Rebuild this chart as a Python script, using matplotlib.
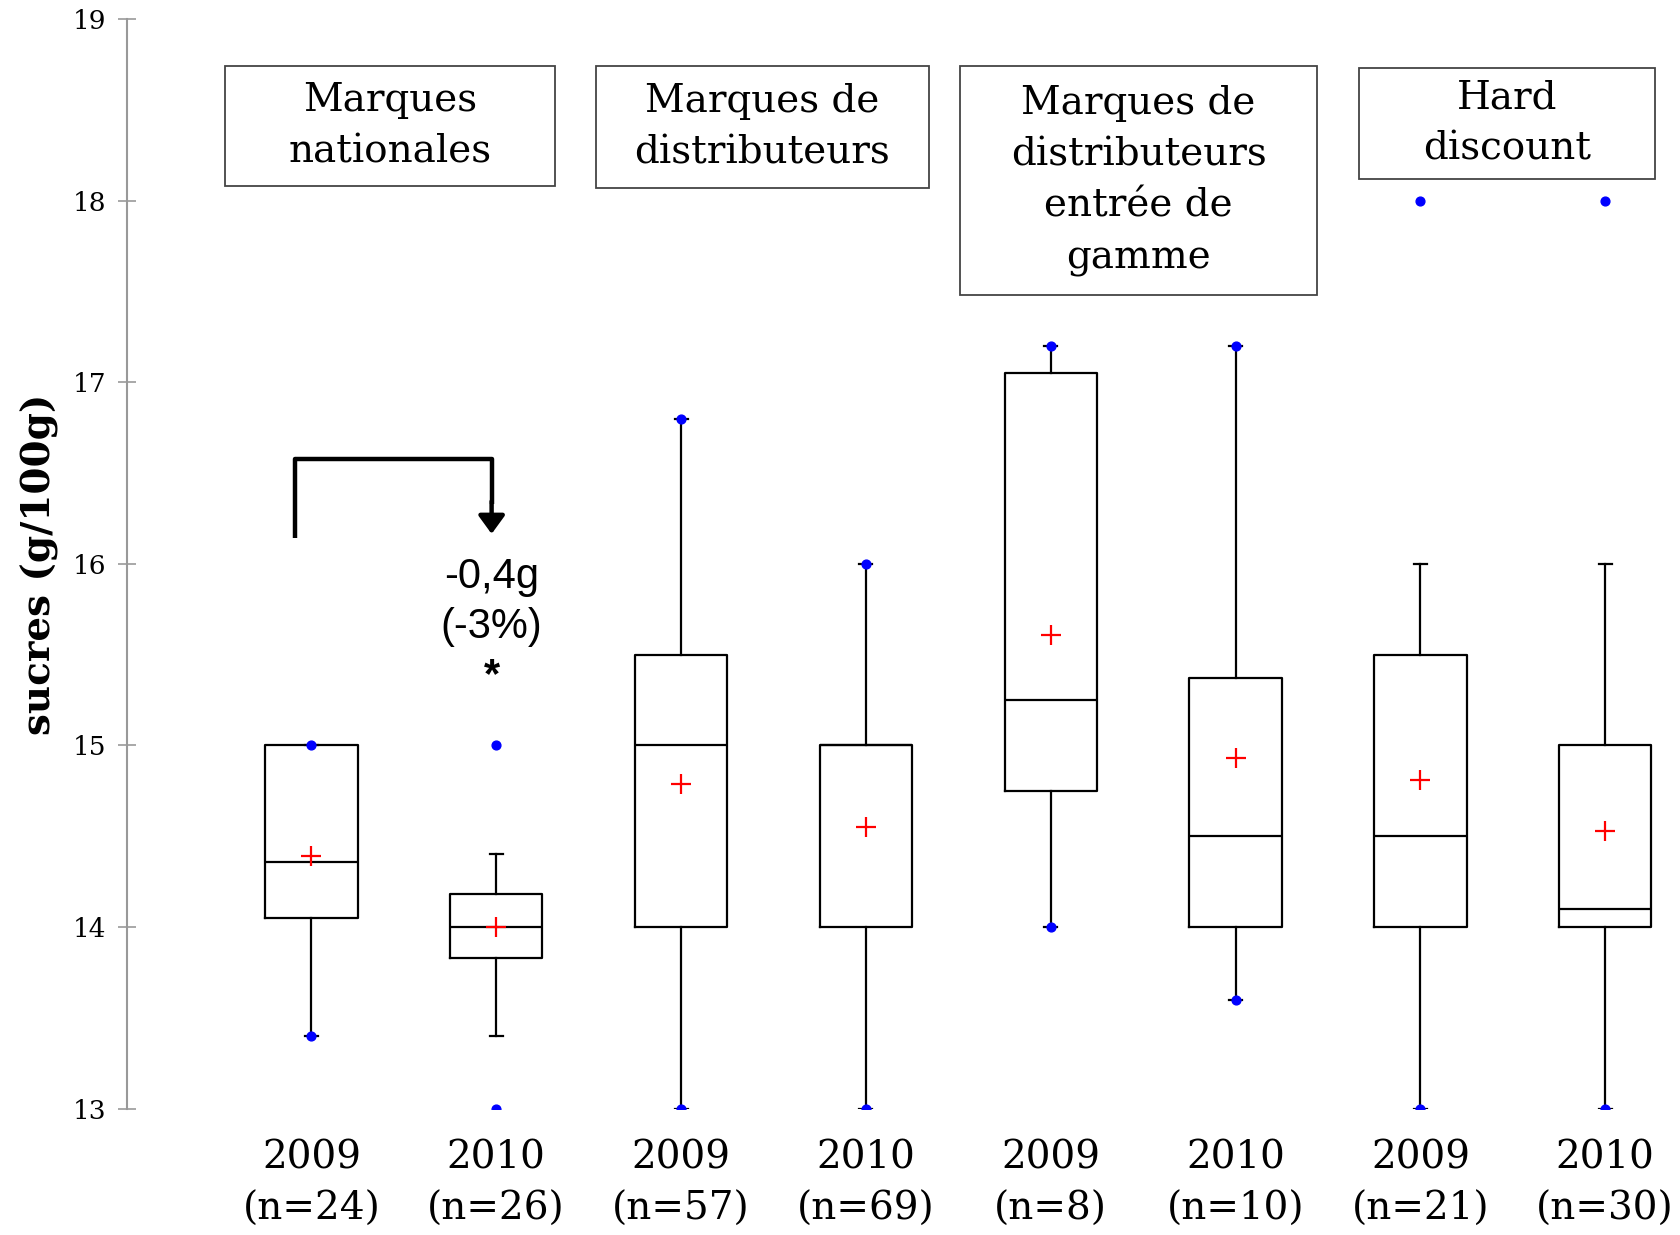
import numpy as np
import matplotlib.pyplot as plt
from matplotlib.patches import Rectangle

# data
years = ['2009', '2010', '2009', '2010', '2009', '2010', '2009', '2010']
counts = [24, 26, 57, 69, 8, 10, 21, 30]
whis_lo = [13.4, 13.4, 13.0, 13.0, 14.0, 13.6, 13.0, 13.0]
q1 = [14.05, 13.83, 14.0, 14.0, 14.75, 14.0, 14.0, 14.0]
med = [14.36, 14.0, 15.0, 15.0, 15.25, 14.5, 14.5, 14.1]
q3 = [15.0, 14.18, 15.5, 15.0, 17.05, 15.37, 15.5, 15.0]
whis_hi = [15.0, 14.4, 16.8, 16.0, 17.2, 17.2, 16.0, 16.0]
means = [14.39, 14.0, 14.79, 14.55, 15.61, 14.93, 14.81, 14.53]
data_min = [13.4, 13.0, 13.0, 13.0, 14.0, 13.6, 13.0, 13.0]
data_max = [15.0, 15.0, 16.8, 16.0, 17.2, 17.2, 18.0, 18.0]

groups = ['Marques\nnationales', 'Marques de\ndistributeurs',
          'Marques de\ndistributeurs\nentrée de\ngamme', 'Hard\ndiscount']
# header box extents (layout)
hdr_x = [(0.53, 2.32), (2.54, 4.34), (4.51, 6.44), (6.67, 8.27)]
hdr_y = [(18.08, 18.74), (18.07, 18.74), (17.48, 18.74), (18.12, 18.73)]

SERIF = 'DejaVu Serif'

pos = np.arange(1, len(years) + 1)
stats = []
for i in range(len(years)):
    stats.append(dict(whislo=whis_lo[i], q1=q1[i], med=med[i], q3=q3[i],
                      whishi=whis_hi[i], mean=means[i], fliers=[]))

fig = plt.figure(figsize=(16.81, 12.35), dpi=100)
ax = fig.add_axes([0.0753, 0.1024, 0.9247, 0.882])

line = dict(color='black', linewidth=1.6)
ax.bxp(stats, positions=pos, widths=0.5, showmeans=False, showfliers=False,
       boxprops=line, whiskerprops=line, capprops=line,
       medianprops=dict(color='black', linewidth=1.6), capwidths=0.07)

ax.scatter(pos, means, marker='+', color='red', s=220, linewidths=1.6, zorder=5)
ax.scatter(pos, data_min, color='blue', s=40, zorder=6)
ax.scatter(pos, data_max, color='blue', s=40, zorder=6)

ax.set_xlim(0, 8.41)
ax.set_ylim(13, 19)
ax.set_yticks(np.arange(13, 20, 1))
ax.set_xticks(pos)
ax.set_xticklabels([f'{y}\n(n={n})' for y, n in zip(years, counts)],
                   family=SERIF, fontsize=28, linespacing=1.5)
ax.tick_params(axis='x', length=0, pad=22)
ax.tick_params(axis='y', direction='inout', length=13, width=1.2, color='#999999',
               labelsize=19, pad=8)
for lab in ax.get_yticklabels():
    lab.set_family(SERIF)
for s in ['top', 'right', 'bottom']:
    ax.spines[s].set_visible(False)
ax.spines['left'].set_color('#999999')
ax.spines['left'].set_linewidth(1.5)

ax.set_ylabel('sucres (g/100g)', family=SERIF, fontsize=28,
              fontweight='bold', labelpad=10)

for g, (x0, x1), (y0, y1) in zip(groups, hdr_x, hdr_y):
    ax.add_patch(Rectangle((x0, y0), x1 - x0, y1 - y0, fill=False,
                           edgecolor='#444444', linewidth=1.3, clip_on=False))
    ax.text((x0 + x1) / 2, (y0 + y1) / 2, g, ha='center', va='center',
            family=SERIF, fontsize=28, linespacing=1.5)

# bracket arrow between 2009 and 2010 (national brands)
ax.plot([0.913, 0.913, 1.975, 1.975], [16.14, 16.58, 16.58, 16.33],
        color='black', linewidth=3.2, solid_joinstyle='round',
        solid_capstyle='butt')
ax.annotate('', xy=(1.975, 16.15), xytext=(1.975, 16.36),
            arrowprops=dict(arrowstyle='-|>,head_length=1.1,head_width=0.8',
                            color='black', linewidth=3.2))
ax.text(1.975, 15.93, '-0,4g', ha='center', va='center',
        family='Liberation Sans', fontsize=30)
ax.text(1.975, 15.65, '(-3%)', ha='center', va='center',
        family='Liberation Sans', fontsize=30)
ax.text(1.975, 15.38, '*', ha='center', va='center',
        family='Liberation Sans', fontsize=30, fontweight='bold')

plt.savefig('out.png', dpi=100)
